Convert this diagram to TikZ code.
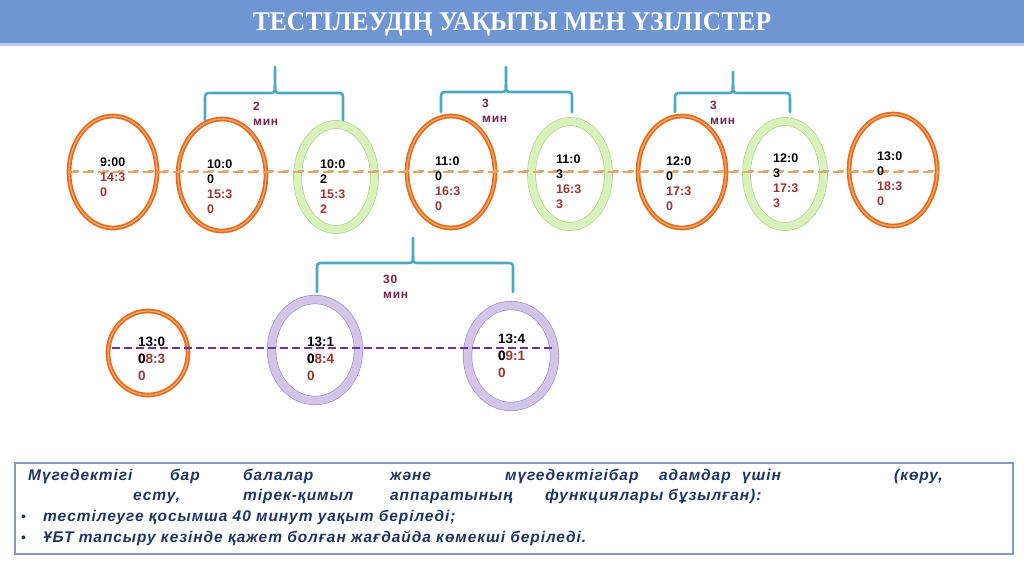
\documentclass[tikz,border=0pt]{standalone}
\usepackage{fontspec}
\usetikzlibrary{shapes.geometric}
\setmainfont{Liberation Sans}
\newfontfamily\titlefont{Liberation Serif}
\newfontfamily\minfont[LetterSpace=6]{Liberation Sans}
\newfontfamily\boxfont[LetterSpace=6]{Liberation Sans}

\definecolor{titleblue}{HTML}{6F95D2}
\definecolor{titleline}{HTML}{B9CDEB}
\definecolor{ringorange}{HTML}{E36C1C}
\definecolor{ringorangelight}{HTML}{F4A66A}
\definecolor{greenfill}{HTML}{D9F2BC}
\definecolor{greenedge}{HTML}{A5CF7E}
\definecolor{purplefill}{HTML}{D2C5E8}
\definecolor{purpleedge}{HTML}{9A86C4}
\definecolor{dashorange}{HTML}{F2A15B}
\definecolor{dashgrey}{HTML}{B4B4B4}
\definecolor{dashpurple}{HTML}{7030A0}
\definecolor{bracecol}{HTML}{4BAAC0}
\definecolor{timered}{HTML}{953735}
\definecolor{minpurple}{HTML}{72234F}
\definecolor{boxtext}{HTML}{1F3462}
\definecolor{boxedge}{HTML}{8499C4}

\tikzset{
  orangering/.style={ellipse, draw=ringorange, double=ringorangelight,
    double distance=1.3pt, line width=1.7pt, minimum width=88pt, minimum height=112pt},
  greenring/.style={ellipse, draw=greenedge, double=greenfill,
    double distance=7.5pt, line width=0.6pt, fill=white, minimum width=77pt, minimum height=105pt},
  purplering/.style={ellipse, draw=purpleedge, double=purplefill,
    double distance=8pt, line width=0.6pt, fill=white, minimum width=87pt, minimum height=101pt},
  timetxt/.style={anchor=north west, inner sep=0pt, align=left,
    font=\bfseries\fontsize{12.5}{15}\selectfont},
  timebig/.style={timetxt, font=\bfseries\fontsize{13.5}{17}\selectfont},
  mintxt/.style={anchor=north west, inner sep=0pt, align=left, text=minpurple,
    font=\minfont\bfseries\fontsize{12}{15}\selectfont},
  boxword/.style={anchor=base west, inner sep=0pt, text=boxtext,
    font=\boxfont\bfseries\itshape\fontsize{15.5}{17}\selectfont},
  brace/.style={draw=bracecol, line width=2.6pt, line cap=round, line join=round},
}

% curly brace opening downwards: left x, right x, mid x, bar y, tip y, top y
\newcommand\minbrace[6]{%
  \draw[brace] (#1,#5) -- (#1,#4+7) .. controls (#1,#4) .. (#1+7,#4) -- (#3-7,#4)
    .. controls (#3,#4) .. (#3,#4-7) -- (#3,#6);
  \draw[brace] (#3,#4-7) .. controls (#3,#4) .. (#3+7,#4) -- (#2-7,#4)
    .. controls (#2,#4) .. (#2,#4+7) -- (#2,#5);
}

\begin{document}
\begin{tikzpicture}[x=1pt, y=-1pt]
  \useasboundingbox (0,0) rectangle (1024,574);

  % title bar
  \fill[titleline] (0,0) rectangle (1024,46);
  \fill[titleblue] (0,0) rectangle (1024,43);
  \node[text=white, anchor=base, inner sep=0pt,
    font=\titlefont\bfseries\fontsize{27}{27}\selectfont] (title) at (512,30)
    {\scalebox{0.95}[1]{ТЕСТІЛЕУДІҢ УАҚЫТЫ МЕН ҮЗІЛІСТЕР}};

  % top row
  \foreach \n/\x/\y/\s in {t1/113/172/orangering, t2/222/175/orangering,
      t3/336/177/greenring, t4/451/172/orangering, t5/570/174/greenring,
      t6/682/172/orangering, t7/785/174/greenring, t8/893/170/orangering}
    \node[\s] (\n) at (\x,\y) {};

  \coordinate (tl) at (68,172);
  \coordinate (tr) at (940,172);
  \draw[dashgrey, line width=2.4pt, dash pattern=on 6pt off 9pt, dash phase=10pt]
    ([yshift=1]tl) -- ([yshift=1]tr);
  \draw[dashorange, line width=2.4pt, dash pattern=on 10pt off 5pt] (tl) -- (tr);

  \node[timetxt] (t1txt) at (100,158) {9:00\\{\color{timered}14:3}\\{\color{timered}0}};
  \foreach \n/\x/\y/\a/\b/\c/\d in {t2/207/160/10:0/0/15:3/0, t3/320/160/10:0/2/15:3/2,
      t4/435/157/11:0/0/16:3/0, t5/556/155/11:0/3/16:3/3, t6/666/157/12:0/0/17:3/0,
      t7/773/154/12:0/3/17:3/3, t8/877/152/13:0/0/18:3/0}
    \node[timetxt] (\n txt) at (\x,\y) {\a\\\b\\{\color{timered}\c}\\{\color{timered}\d}};

  % braces
  \minbrace{205}{343}{275}{93}{120}{67}
  \minbrace{441}{572}{506}{92}{112}{67}
  \minbrace{675}{790}{733}{93}{112}{72}
  \node[mintxt] (gap1) at (253,102) {2\\мин};
  \node[mintxt] (gap2) at (482,99) {3\\мин};
  \node[mintxt] (gap3) at (710,101) {3\\мин};

  % bottom row
  \node[orangering, minimum width=80pt, minimum height=84pt] (b1) at (148,353) {};
  \node[purplering] (b2) at (315,350) {};
  \node[purplering] (b3) at (511,356) {};

  \coordinate (bl) at (112,348);
  \coordinate (br) at (553,348);
  \draw[dashpurple, line width=2pt, dash pattern=on 8pt off 4pt] (bl) -- (br);

  \node[timebig] (b1txt) at (138,337)
    {13:0\\{\color{timered}\rlap{08:3}}0\\{\color{timered}0}};
  \node[timebig] (b2txt) at (307,337)
    {13:1\\{\color{timered}\rlap{08:4}}0\\{\color{timered}0}};
  \node[timebig] (b3txt) at (498,334)
    {13:4\\{\color{timered}\rlap{09:1}}0\\{\color{timered}0}};

  \minbrace{317}{513}{413}{263}{292}{238}
  \node[mintxt] (gap4) at (383,275) {30\\мин};

  % info box
  \node[draw=boxedge, line width=1.6pt, anchor=north west, minimum width=998pt,
    minimum height=91pt, inner sep=0pt] (infobox) at (14,462) {};
  \foreach \x/\w [count=\i] in {28/Мүгедектігі, 170/бар, 243/балалар, 390/және,
      505/мүгедектігібар, 659/адамдар, 742/үшін, 894/{(көру,}}
    \node[boxword] (wa\i) at (\x,480) {\w};
  \foreach \x/\w [count=\i] in {133/{есту,}, 243/тірек-қимыл, 390/аппаратының,
      545/функциялары бұзылған):}
    \node[boxword] (wb\i) at (\x,500) {\w};
  \node[boxword, font=\fontsize{14}{14}\selectfont] (dot1) at (21,521) {•};
  \node[boxword] (wc1) at (43,521) {тестілеуге қосымша 40 минут уақыт беріледі;};
  \node[boxword, font=\fontsize{14}{14}\selectfont] (dot2) at (21,542) {•};
  \node[boxword] (wd1) at (43,542) {ҰБТ тапсыру кезінде қажет болған жағдайда көмекші беріледі.};
\end{tikzpicture}
\end{document}
